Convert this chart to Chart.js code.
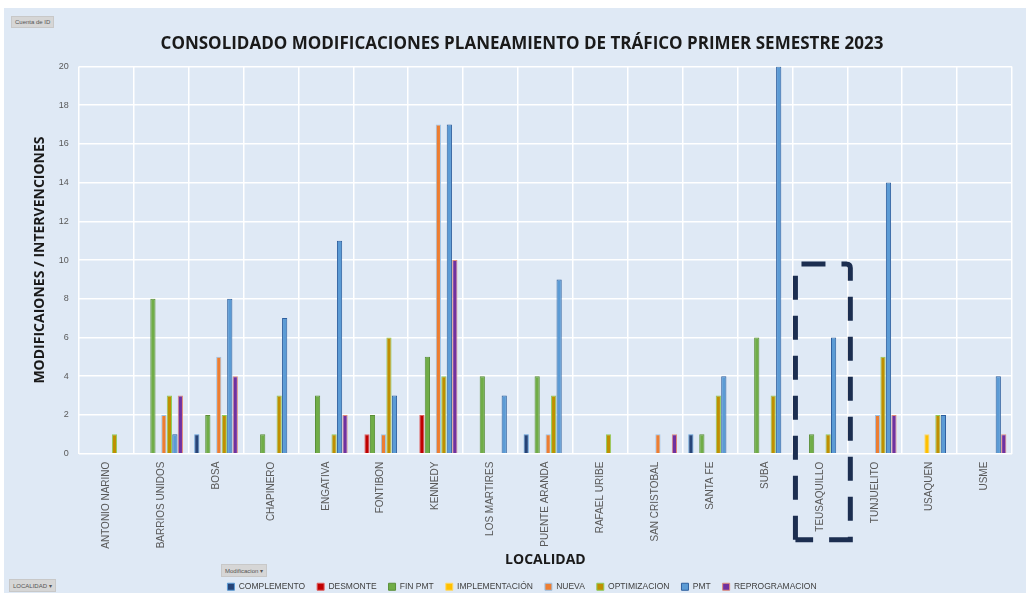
<!DOCTYPE html>
<html>
<head>
<meta charset="utf-8">
<script src="https://cdn.jsdelivr.net/npm/chart.js@4/dist/chart.umd.min.js"></script>
<style>
  html, body { margin: 0; padding: 0; background: #ffffff; overflow: hidden; }
  #wrap { position: absolute; left: 4px; top: 8px; width: 1022px; height: 593px; background: #dfe9f5; }
  #chart { display: block; }
  .fieldBtn { position: absolute; font-family: "Liberation Sans", Arial, sans-serif; font-size: 6px; color: #555;
    background: #d6d6d6; border: 1px solid #c8c8c8; padding: 2px 3px; }
</style>
</head>
<body>
<div id="wrap">
  <canvas id="chart" width="1022" height="593"></canvas>
  <div class="fieldBtn" style="left:7px; top:8px;">Cuenta de ID</div>
  <div class="fieldBtn" style="left:217px; top:556px;">Modificacion ▾</div>
  <div class="fieldBtn" style="left:5px; top:571px;">LOCALIDAD ▾</div>
</div>
<script>
// ========== Data ==========
const localidades = ["ANTONIO NARINO", "BARRIOS UNIDOS", "BOSA", "CHAPINERO", "ENGATIVA", "FONTIBON",
  "KENNEDY", "LOS MARTIRES", "PUENTE ARANDA", "RAFAEL URIBE", "SAN CRISTOBAL", "SANTA FE",
  "SUBA", "TEUSAQUILLO", "TUNJUELITO", "USAQUEN", "USME"];

const complemento    = [0, 0, 1, 0, 0, 0, 0, 0, 1, 0, 0, 1, 0, 0, 0, 0, 0];
const desmonte       = [0, 0, 0, 0, 0, 1, 2, 0, 0, 0, 0, 0, 0, 0, 0, 0, 0];
const finPmt         = [0, 8, 2, 1, 3, 2, 5, 4, 4, 0, 0, 1, 6, 1, 0, 0, 0];
const implementacion = [0, 0, 0, 0, 0, 0, 0, 0, 0, 0, 0, 0, 0, 0, 0, 1, 0];
const nueva          = [0, 2, 5, 0, 0, 1, 17, 0, 1, 0, 1, 0, 0, 0, 2, 0, 0];
const optimizacion   = [1, 3, 2, 3, 1, 6, 4, 0, 3, 1, 0, 3, 3, 1, 5, 2, 0];
const pmt            = [0, 1, 8, 7, 11, 3, 17, 3, 9, 0, 0, 4, 20, 6, 14, 2, 4];
const reprogramacion = [0, 3, 4, 0, 2, 0, 10, 0, 0, 0, 1, 0, 0, 0, 2, 0, 1];

const yTicks = [0, 2, 4, 6, 8, 10, 12, 14, 16, 18, 20];
const highlighted = "TEUSAQUILLO";

function nz(arr) { return arr.map(v => v === 0 ? null : v); }

const series = [
  { label: "COMPLEMENTO", data: complemento, bg: "#264478", bd: "#5b9bd5" },
  { label: "DESMONTE", data: desmonte, bg: "#c00000", bd: "#e06060" },
  { label: "FIN PMT", data: finPmt, bg: "#70ad47", bd: "#5a8f38" },
  { label: "IMPLEMENTACIÓN", data: implementacion, bg: "#ffc000", bd: "#ffd966" },
  { label: "NUEVA", data: nueva, bg: "#ed7d31", bd: "#9dc3e6" },
  { label: "OPTIMIZACION", data: optimizacion, bg: "#bf9000", bd: "#8fcc5a" },
  { label: "PMT", data: pmt, bg: "#5b9bd5", bd: "#2e5f9e" },
  { label: "REPROGRAMACION", data: reprogramacion, bg: "#7030a0", bd: "#e08a7a" }
];

// ========== Dashed highlight box ==========
const highlightBox = {
  id: "highlightBox",
  afterDraw(chart) {
    const x = chart.scales.x, y = chart.scales.y;
    const idx = localidades.indexOf(highlighted);
    const half = (x.getPixelForValue(1) - x.getPixelForValue(0)) / 2;
    const cx = x.getPixelForValue(idx);
    const left = cx - half + 3, right = cx + half + 3;
    const top = y.getPixelForValue(10) + 4;
    const bottom = chart.chartArea.bottom + 86;
    const ctx = chart.ctx;
    ctx.save();
    ctx.strokeStyle = "#1c2e50";
    ctx.lineWidth = 5;
    ctx.setLineDash([24, 16]);
    ctx.beginPath();
    ctx.moveTo(left, bottom);
    ctx.lineTo(left, top + 4);
    ctx.quadraticCurveTo(left, top, left + 4, top);
    ctx.lineTo(right - 4, top);
    ctx.quadraticCurveTo(right, top, right, top + 4);
    ctx.lineTo(right, bottom);
    ctx.lineTo(left, bottom);
    ctx.stroke();
    ctx.restore();
  }
};

const ctx = document.getElementById("chart");
new Chart(ctx, {
  type: "bar",
  data: {
    labels: localidades,
    datasets: series.map(s => ({
      label: s.label,
      data: nz(s.data),
      backgroundColor: s.bg,
      borderColor: s.bd,
      borderWidth: 1,
      categoryPercentage: 0.8,
      barPercentage: 0.95
    }))
  },
  options: {
    responsive: false,
    animation: false,
    layout: { padding: { left: 28, right: 14, top: 4, bottom: 0 } },
    plugins: {
      title: {
        display: true,
        text: "CONSOLIDADO MODIFICACIONES PLANEAMIENTO DE TRÁFICO PRIMER SEMESTRE 2023",
        color: "#1a1a1a",
        font: { family: "Open Sans", size: 17, weight: "bold" },
        padding: { top: 22, bottom: 12 }
      },
      legend: {
        position: "bottom",
        labels: {
          color: "#404040",
          font: { family: "Liberation Sans", size: 8.5 },
          boxWidth: 7,
          boxHeight: 7,
          padding: 12
        }
      },
      tooltip: { enabled: false }
    },
    scales: {
      x: {
        grid: { color: "#ffffff", lineWidth: 1.5, offset: true, drawTicks: false },
        border: { display: false },
        ticks: {
          color: "#595959",
          font: { family: "Liberation Sans", size: 10 },
          minRotation: 90, maxRotation: 90,
          autoSkip: false,
          padding: 8
        },
        title: {
          display: true,
          text: "LOCALIDAD",
          color: "#1a1a1a",
          font: { family: "Open Sans", size: 14, weight: "bold" },
          padding: { top: -5, bottom: 2 }
        }
      },
      y: {
        min: 0, max: 20,
        afterBuildTicks(scale) { scale.ticks = yTicks.map(v => ({ value: v })); },
        grid: { color: "#ffffff", lineWidth: 1.5, drawTicks: false },
        border: { display: false },
        ticks: {
          color: "#595959",
          font: { family: "Liberation Sans", size: 9 },
          padding: 10
        },
        title: {
          display: true,
          text: "MODIFICAIONES / INTERVENCIONES",
          color: "#1a1a1a",
          font: { family: "Open Sans", size: 14, weight: "bold" },
          padding: { top: 0, bottom: 0 }
        }
      }
    }
  },
  plugins: [highlightBox]
});
</script>
</body>
</html>
